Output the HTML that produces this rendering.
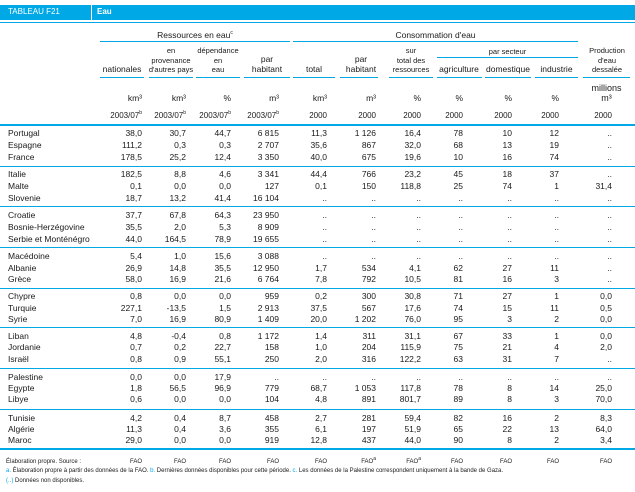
<!DOCTYPE html>
<html><head><meta charset="utf-8"><style>
body{margin:0;background:#fff;}
#w{position:relative;width:635px;height:492px;overflow:hidden;font-family:"Liberation Sans",Arial,sans-serif;color:#1a1a1a;font-size:8.5px;}
.a{position:absolute;white-space:nowrap;line-height:10px;}
.r{position:absolute;left:0;width:635px;height:10px;}
.r span{position:absolute;top:0;line-height:10px;white-space:nowrap;}
.n{left:8px;}
.c1,.c2,.c3,.c4,.c5,.c6,.c7,.c8,.c9,.c10,.c11{width:60px;text-align:right;}
.c1{left:82px}.c2{left:126px}.c3{left:171px}.c4{left:219px}.c5{left:267px}.c6{left:316px}.c7{left:361px}.c8{left:403px}.c9{left:452px}.c10{left:499px}.c11{left:552px}
.hl{position:absolute;background:#00a9e6;height:1px;}
.h{position:absolute;text-align:center;line-height:9.5px;white-space:nowrap;}
sup{font-size:5px;vertical-align:top;line-height:5px;}
</style></head><body><div id="w">
<div class="hl" style="left:0;top:5px;width:635px;height:15px"></div>
<div style="position:absolute;left:91px;top:5px;width:1px;height:15px;background:#fff"></div>
<div class="a" style="left:8px;top:7px;color:#fff;font-size:8px">TABLEAU F21</div>
<div class="a" style="left:97px;top:7px;color:#fff;font-size:8px;font-weight:bold">Eau</div>
<div class="hl" style="left:0;top:22px;width:635px"></div>

<div class="h" style="left:100px;width:190px;top:31px;font-size:8.5px">Ressources en eau<sup>c</sup></div>
<div class="h" style="left:293px;width:285px;top:31px">Consommation d'eau</div>
<div class="hl" style="left:100px;top:41px;width:190px"></div>
<div class="hl" style="left:293px;top:41px;width:285px"></div>
<div class="h" style="left:437px;width:141px;top:47px;font-size:7.5px">par secteur</div>
<div class="hl" style="left:437px;top:57px;width:141px"></div>

<div class="h" style="left:100px;width:44px;top:65px">nationales</div>
<div class="h" style="left:146px;width:50px;top:46px;font-size:7.5px">en<br>provenance<br>d'autres pays</div>
<div class="h" style="left:194px;width:48px;top:46px;font-size:7.5px">dépendance<br>en<br>eau</div>
<div class="h" style="left:244px;width:46px;top:55px">par<br>habitant</div>
<div class="h" style="left:293px;width:42px;top:65px">total</div>
<div class="h" style="left:338px;width:46px;top:55px">par<br>habitant</div>
<div class="h" style="left:386px;width:50px;top:46px;font-size:7.5px">sur<br>total des<br>ressources</div>
<div class="h" style="left:435px;width:48px;top:65px">agriculture</div>
<div class="h" style="left:483px;width:50px;top:65px">domestique</div>
<div class="h" style="left:535px;width:43px;top:65px">industrie</div>
<div class="h" style="left:581px;width:52px;top:46px;font-size:7.5px">Production<br>d'eau<br>dessalée</div>
<div class="hl" style="left:100px;top:77px;width:44px"></div>
<div class="hl" style="left:149px;top:77px;width:44px"></div>
<div class="hl" style="left:196px;top:77px;width:44px"></div>
<div class="hl" style="left:244px;top:77px;width:46px"></div>
<div class="hl" style="left:293px;top:77px;width:42px"></div>
<div class="hl" style="left:340px;top:77px;width:38px"></div>
<div class="hl" style="left:389px;top:77px;width:44px"></div>
<div class="hl" style="left:437px;top:77px;width:45px"></div>
<div class="hl" style="left:485px;top:77px;width:46px"></div>
<div class="hl" style="left:535px;top:77px;width:43px"></div>
<div class="hl" style="left:583px;top:77px;width:47px"></div>

<div class="r" style="top:93px"><span class="c1">km³</span><span class="c2">km³</span><span class="c3">%</span><span class="c4">m³</span><span class="c5">km³</span><span class="c6">m³</span><span class="c7">%</span><span class="c8">%</span><span class="c9">%</span><span class="c10">%</span></div>
<div class="h" style="left:583px;width:47px;top:84px;font-size:9px">millions<br>m³</div>
<div class="r" style="top:111px;font-size:8px"><span class="c1">2003/07<sup>b</sup></span><span class="c2">2003/07<sup>b</sup></span><span class="c3">2003/07<sup>b</sup></span><span class="c4">2003/07<sup>b</sup></span><span class="c5">2000</span><span class="c6">2000</span><span class="c7">2000</span><span class="c8">2000</span><span class="c9">2000</span><span class="c10">2000</span><span class="c11">2000</span></div>
<div class="hl" style="left:0;top:124px;width:635px;height:2px"></div>

<div class="r" style="top:128px"><span class="n">Portugal</span><span class="c1">38,0</span><span class="c2">30,7</span><span class="c3">44,7</span><span class="c4">6 815</span><span class="c5">11,3</span><span class="c6">1 126</span><span class="c7">16,4</span><span class="c8">78</span><span class="c9">10</span><span class="c10">12</span><span class="c11">..</span></div>
<div class="r" style="top:140px"><span class="n">Espagne</span><span class="c1">111,2</span><span class="c2">0,3</span><span class="c3">0,3</span><span class="c4">2 707</span><span class="c5">35,6</span><span class="c6">867</span><span class="c7">32,0</span><span class="c8">68</span><span class="c9">13</span><span class="c10">19</span><span class="c11">..</span></div>
<div class="r" style="top:152px"><span class="n">France</span><span class="c1">178,5</span><span class="c2">25,2</span><span class="c3">12,4</span><span class="c4">3 350</span><span class="c5">40,0</span><span class="c6">675</span><span class="c7">19,6</span><span class="c8">10</span><span class="c9">16</span><span class="c10">74</span><span class="c11">..</span></div>
<div class="hl" style="left:0;top:166px;width:635px"></div>
<div class="r" style="top:169px"><span class="n">Italie</span><span class="c1">182,5</span><span class="c2">8,8</span><span class="c3">4,6</span><span class="c4">3 341</span><span class="c5">44,4</span><span class="c6">766</span><span class="c7">23,2</span><span class="c8">45</span><span class="c9">18</span><span class="c10">37</span><span class="c11">..</span></div>
<div class="r" style="top:181px"><span class="n">Malte</span><span class="c1">0,1</span><span class="c2">0,0</span><span class="c3">0,0</span><span class="c4">127</span><span class="c5">0,1</span><span class="c6">150</span><span class="c7">118,8</span><span class="c8">25</span><span class="c9">74</span><span class="c10">1</span><span class="c11">31,4</span></div>
<div class="r" style="top:193px"><span class="n">Slovenie</span><span class="c1">18,7</span><span class="c2">13,2</span><span class="c3">41,4</span><span class="c4">16 104</span><span class="c5">..</span><span class="c6">..</span><span class="c7">..</span><span class="c8">..</span><span class="c9">..</span><span class="c10">..</span><span class="c11">..</span></div>
<div class="hl" style="left:0;top:206px;width:635px"></div>
<div class="r" style="top:210px"><span class="n">Croatie</span><span class="c1">37,7</span><span class="c2">67,8</span><span class="c3">64,3</span><span class="c4">23 950</span><span class="c5">..</span><span class="c6">..</span><span class="c7">..</span><span class="c8">..</span><span class="c9">..</span><span class="c10">..</span><span class="c11">..</span></div>
<div class="r" style="top:222px"><span class="n">Bosnie-Herzégovine</span><span class="c1">35,5</span><span class="c2">2,0</span><span class="c3">5,3</span><span class="c4">8 909</span><span class="c5">..</span><span class="c6">..</span><span class="c7">..</span><span class="c8">..</span><span class="c9">..</span><span class="c10">..</span><span class="c11">..</span></div>
<div class="r" style="top:234px"><span class="n">Serbie et Monténégro</span><span class="c1">44,0</span><span class="c2">164,5</span><span class="c3">78,9</span><span class="c4">19 655</span><span class="c5">..</span><span class="c6">..</span><span class="c7">..</span><span class="c8">..</span><span class="c9">..</span><span class="c10">..</span><span class="c11">..</span></div>
<div class="hl" style="left:0;top:247px;width:635px"></div>
<div class="r" style="top:251px"><span class="n">Macédoine</span><span class="c1">5,4</span><span class="c2">1,0</span><span class="c3">15,6</span><span class="c4">3 088</span><span class="c5">..</span><span class="c6">..</span><span class="c7">..</span><span class="c8">..</span><span class="c9">..</span><span class="c10">..</span><span class="c11">..</span></div>
<div class="r" style="top:263px"><span class="n">Albanie</span><span class="c1">26,9</span><span class="c2">14,8</span><span class="c3">35,5</span><span class="c4">12 950</span><span class="c5">1,7</span><span class="c6">534</span><span class="c7">4,1</span><span class="c8">62</span><span class="c9">27</span><span class="c10">11</span><span class="c11">..</span></div>
<div class="r" style="top:274px"><span class="n">Grèce</span><span class="c1">58,0</span><span class="c2">16,9</span><span class="c3">21,6</span><span class="c4">6 764</span><span class="c5">7,8</span><span class="c6">792</span><span class="c7">10,5</span><span class="c8">81</span><span class="c9">16</span><span class="c10">3</span><span class="c11">..</span></div>
<div class="hl" style="left:0;top:288px;width:635px"></div>
<div class="r" style="top:291px"><span class="n">Chypre</span><span class="c1">0,8</span><span class="c2">0,0</span><span class="c3">0,0</span><span class="c4">959</span><span class="c5">0,2</span><span class="c6">300</span><span class="c7">30,8</span><span class="c8">71</span><span class="c9">27</span><span class="c10">1</span><span class="c11">0,0</span></div>
<div class="r" style="top:303px"><span class="n">Turquie</span><span class="c1">227,1</span><span class="c2">-13,5</span><span class="c3">1,5</span><span class="c4">2 913</span><span class="c5">37,5</span><span class="c6">567</span><span class="c7">17,6</span><span class="c8">74</span><span class="c9">15</span><span class="c10">11</span><span class="c11">0,5</span></div>
<div class="r" style="top:314px"><span class="n">Syrie</span><span class="c1">7,0</span><span class="c2">16,9</span><span class="c3">80,9</span><span class="c4">1 409</span><span class="c5">20,0</span><span class="c6">1 202</span><span class="c7">76,0</span><span class="c8">95</span><span class="c9">3</span><span class="c10">2</span><span class="c11">0,0</span></div>
<div class="hl" style="left:0;top:327px;width:635px"></div>
<div class="r" style="top:331px"><span class="n">Liban</span><span class="c1">4,8</span><span class="c2">-0,4</span><span class="c3">0,8</span><span class="c4">1 172</span><span class="c5">1,4</span><span class="c6">311</span><span class="c7">31,1</span><span class="c8">67</span><span class="c9">33</span><span class="c10">1</span><span class="c11">0,0</span></div>
<div class="r" style="top:342px"><span class="n">Jordanie</span><span class="c1">0,7</span><span class="c2">0,2</span><span class="c3">22,7</span><span class="c4">158</span><span class="c5">1,0</span><span class="c6">204</span><span class="c7">115,9</span><span class="c8">75</span><span class="c9">21</span><span class="c10">4</span><span class="c11">2,0</span></div>
<div class="r" style="top:354px"><span class="n">Israël</span><span class="c1">0,8</span><span class="c2">0,9</span><span class="c3">55,1</span><span class="c4">250</span><span class="c5">2,0</span><span class="c6">316</span><span class="c7">122,2</span><span class="c8">63</span><span class="c9">31</span><span class="c10">7</span><span class="c11">..</span></div>
<div class="hl" style="left:0;top:368px;width:635px"></div>
<div class="r" style="top:372px"><span class="n">Palestine</span><span class="c1">0,0</span><span class="c2">0,0</span><span class="c3">17,9</span><span class="c4">..</span><span class="c5">..</span><span class="c6">..</span><span class="c7">..</span><span class="c8">..</span><span class="c9">..</span><span class="c10">..</span><span class="c11">..</span></div>
<div class="r" style="top:383px"><span class="n">Egypte</span><span class="c1">1,8</span><span class="c2">56,5</span><span class="c3">96,9</span><span class="c4">779</span><span class="c5">68,7</span><span class="c6">1 053</span><span class="c7">117,8</span><span class="c8">78</span><span class="c9">8</span><span class="c10">14</span><span class="c11">25,0</span></div>
<div class="r" style="top:394px"><span class="n">Libye</span><span class="c1">0,6</span><span class="c2">0,0</span><span class="c3">0,0</span><span class="c4">104</span><span class="c5">4,8</span><span class="c6">891</span><span class="c7">801,7</span><span class="c8">89</span><span class="c9">8</span><span class="c10">3</span><span class="c11">70,0</span></div>
<div class="hl" style="left:0;top:409px;width:635px"></div>
<div class="r" style="top:413px"><span class="n">Tunisie</span><span class="c1">4,2</span><span class="c2">0,4</span><span class="c3">8,7</span><span class="c4">458</span><span class="c5">2,7</span><span class="c6">281</span><span class="c7">59,4</span><span class="c8">82</span><span class="c9">16</span><span class="c10">2</span><span class="c11">8,3</span></div>
<div class="r" style="top:424px"><span class="n">Algérie</span><span class="c1">11,3</span><span class="c2">0,4</span><span class="c3">3,6</span><span class="c4">355</span><span class="c5">6,1</span><span class="c6">197</span><span class="c7">51,9</span><span class="c8">65</span><span class="c9">22</span><span class="c10">13</span><span class="c11">64,0</span></div>
<div class="r" style="top:435px"><span class="n">Maroc</span><span class="c1">29,0</span><span class="c2">0,0</span><span class="c3">0,0</span><span class="c4">919</span><span class="c5">12,8</span><span class="c6">437</span><span class="c7">44,0</span><span class="c8">90</span><span class="c9">8</span><span class="c10">2</span><span class="c11">3,4</span></div>
<div class="hl" style="left:0;top:448px;width:635px;height:2px"></div>

<div class="r" style="top:457px;font-size:6px"><span class="n" style="left:6px">Élaboration propre. Source :</span><span class="c1">FAO</span><span class="c2">FAO</span><span class="c3">FAO</span><span class="c4">FAO</span><span class="c5">FAO</span><span class="c6">FAO<sup>a</sup></span><span class="c7">FAO<sup>a</sup></span><span class="c8">FAO</span><span class="c9">FAO</span><span class="c10">FAO</span><span class="c11">FAO</span></div>
<div class="a" style="left:6px;top:466px;font-size:6px"><span style="color:#00a9e6">a.</span> Élaboration propre à partir des données de la FAO. <span style="color:#00a9e6">b.</span> Dernières données disponibles pour cette période. <span style="color:#00a9e6">c.</span> Les données de la Palestine correspondent uniquement à la bande de Gaza.</div>
<div class="a" style="left:6px;top:476px;font-size:6px"><span style="color:#00a9e6">(..)</span> Données non disponibles.</div>
</div></body></html>
